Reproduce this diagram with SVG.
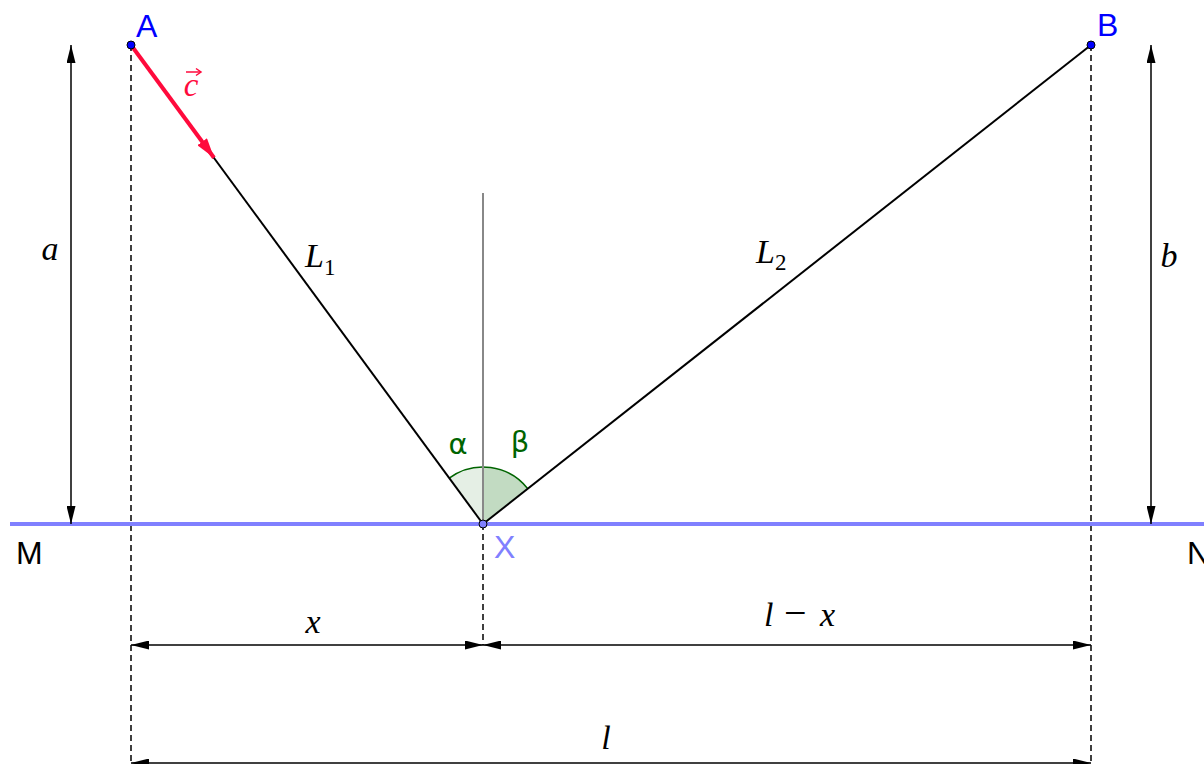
<svg xmlns="http://www.w3.org/2000/svg" width="1204" height="764" viewBox="0 0 1204 764">
<style>
.dash{stroke:#000;stroke-width:1.5;stroke-dasharray:6 4;fill:none}
.dim{stroke:#000;stroke-width:1.5;fill:none;marker-start:url(#ah);marker-end:url(#ah)}
.ray{stroke:#000;stroke-width:2;fill:none}
.pt{font-family:"Liberation Sans",Arial,sans-serif;font-size:32px}
.math{font-family:"Liberation Serif","Times New Roman",serif;font-style:italic;font-size:34px;fill:#000}
.sub{font-family:"Liberation Serif","Times New Roman",serif;font-size:23px;fill:#000}
.greek{font-family:"DejaVu Sans",sans-serif;font-size:29px;fill:#006400}
</style>
<defs>
<marker id="ah" viewBox="0 0 18 9" refX="18" refY="4.5" markerWidth="18" markerHeight="9" markerUnits="userSpaceOnUse" orient="auto-start-reverse">
<path d="M0,0 L18,4.5 L0,9 Z" fill="#000"/>
</marker>
<marker id="rh" viewBox="0 0 20 12" refX="20" refY="6" markerWidth="20" markerHeight="12" markerUnits="userSpaceOnUse" orient="auto">
<path d="M0,0 L20,6 L0,12 Z" fill="#ff0a3c"/>
</marker>
</defs>
<rect width="1204" height="764" fill="#fff"/>

<g id="angles">
<path d="M483,524 L449.2,478.1 A57,57 0 0 1 483,467 Z" fill="#e5efe5"/>
<path d="M483,524 L483,467 A57,57 0 0 1 527.8,488.7 Z" fill="#c2dbc2"/>
<path d="M449.2,478.1 A57,57 0 0 1 527.8,488.7" fill="none" stroke="#006400" stroke-width="1.5"/>
<text class="greek" x="458" y="454" text-anchor="middle">α</text>
<text class="greek" x="520" y="452" text-anchor="middle">β</text>
</g>

<g id="connectors">
<line class="dash" x1="131" y1="45" x2="131" y2="764"/>
<line class="dash" x1="1091" y1="45" x2="1091" y2="764"/>
<line class="dash" x1="483" y1="524" x2="483" y2="645"/>
<line x1="483" y1="193" x2="483" y2="524" stroke="#888" stroke-width="2"/>
<line class="ray" x1="131" y1="45" x2="483" y2="524"/>
<line class="ray" x1="483" y1="524" x2="1091" y2="45"/>
<line x1="131" y1="45" x2="214" y2="157.8" stroke="#ff0a3c" stroke-width="4" marker-end="url(#rh)"/>
<line x1="10" y1="524" x2="1204" y2="524" stroke="#8080ff" stroke-width="4"/>
<line class="dim" x1="71" y1="45" x2="71" y2="524"/>
<line class="dim" x1="1151" y1="45" x2="1151" y2="524"/>
<line class="dim" x1="131" y1="645" x2="483" y2="645"/>
<line class="dim" x1="483" y1="645" x2="1091" y2="645"/>
<line class="dim" x1="131" y1="763" x2="1091" y2="763"/>
</g>

<g id="node-A">
<circle cx="131" cy="45" r="4" fill="#0000ff" stroke="#000" stroke-width="1"/>
<text class="pt" x="136" y="37" fill="#0000ff">A</text>
</g>
<g id="node-B">
<circle cx="1091" cy="45" r="4" fill="#0000ff" stroke="#000" stroke-width="1"/>
<text class="pt" x="1097" y="36" fill="#0000ff">B</text>
</g>
<g id="node-X">
<circle cx="483" cy="524" r="4" fill="#8080ff" stroke="#000" stroke-width="1"/>
<text class="pt" x="494" y="558" fill="#8080ff">X</text>
</g>
<g id="node-M">
<text class="pt" x="16" y="564" fill="#000">M</text>
</g>
<g id="node-N">
<text class="pt" x="1187" y="564" fill="#000">N</text>
</g>

<g id="label-c">
<text x="191" y="96" text-anchor="middle" font-family="Liberation Serif,serif" font-style="italic" font-size="33" fill="#ff0a3c">c</text>
<path d="M186,72 L200,72" stroke="#ff0a3c" stroke-width="1.5" fill="none"/>
<path d="M196,68.5 L201,72 L196,75.5" stroke="#ff0a3c" stroke-width="1.5" fill="none"/>
</g>

<g id="labels">
<text class="math" x="50" y="260" text-anchor="middle">a</text>
<text class="math" x="1169" y="267" text-anchor="middle">b</text>
<text class="math" x="305" y="267">L<tspan class="sub" dy="8" font-style="normal">1</tspan></text>
<text class="math" x="756" y="263">L<tspan class="sub" dy="7" font-style="normal">2</tspan></text>
<text class="math" x="313" y="633" text-anchor="middle">x</text>
<text class="math" y="626"><tspan x="764">l</tspan><tspan x="784" font-style="normal" font-size="40">−</tspan><tspan x="820">x</tspan></text>
<text class="math" x="606" y="749" text-anchor="middle">l</text>
</g>
</svg>
